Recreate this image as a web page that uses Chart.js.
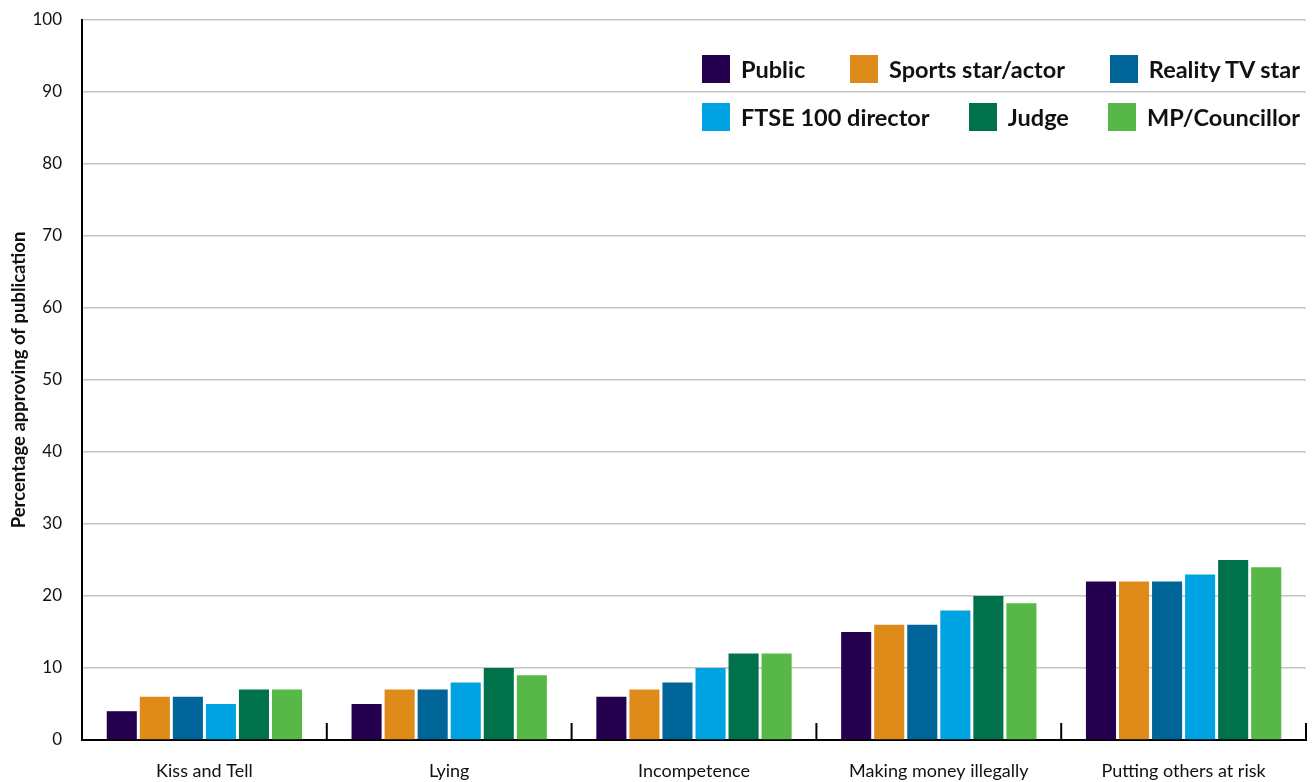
<!DOCTYPE html>
<html>
<head>
<meta charset="utf-8">
<script src="https://cdn.jsdelivr.net/npm/chart.js@4/dist/chart.umd.min.js"></script>
<style>
  html, body { margin: 0; padding: 0; background: #fff; }
  #wrap { position: relative; width: 1314px; height: 782px; }
  #legend { position: absolute; left: 702px; top: 55px; width: 598px; font-family: Lato, "Open Sans", sans-serif; }
  .row { display: flex; justify-content: space-between; height: 28px; margin-bottom: 20px; }
  .item { display: flex; align-items: center; font-weight: bold; font-size: 23.5px; color: #111; white-space: nowrap; }
  .box { width: 28px; height: 28px; margin-right: 11px; flex: none; }
</style>
</head>
<body>
<div id="wrap">
  <canvas id="c" width="1314" height="782"></canvas>
  <div id="legend"></div>
</div>
<script>
const categories = ["Kiss and Tell", "Lying", "Incompetence", "Making money illegally", "Putting others at risk"];
const seriesNames = ["Public", "Sports star/actor", "Reality TV star", "FTSE 100 director", "Judge", "MP/Councillor"];
const seriesColors = ["#24004f", "#de8b1a", "#006598", "#00a3e2", "#00714a", "#57b848"];
const publicVals   = [4, 5, 6, 15, 22];
const sportsVals   = [6, 7, 7, 16, 22];
const realityVals  = [6, 7, 8, 16, 22];
const ftseVals     = [5, 8, 10, 18, 23];
const judgeVals    = [7, 10, 12, 20, 25];
const mpVals       = [7, 9, 12, 19, 24];
const yTicks = [0, 10, 20, 30, 40, 50, 60, 70, 80, 90, 100];
const yTitle = "Percentage approving of publication";

const seriesValues = [publicVals, sportsVals, realityVals, ftseVals, judgeVals, mpVals];
const FONT = "Lato, 'Open Sans', sans-serif";

const catTicks = {
  id: 'catTicks',
  afterDraw(chart) {
    const x = chart.scales.x, ctx = chart.ctx;
    const n = categories.length;
    const half = (x.getPixelForValue(1) - x.getPixelForValue(0)) / 2;
    ctx.save();
    ctx.strokeStyle = '#000';
    ctx.lineWidth = 2;
    for (let i = 0; i <= n; i++) {
      const px = (i < n ? x.getPixelForValue(i) - half : x.getPixelForValue(n - 1) + half);
      ctx.beginPath();
      ctx.moveTo(px, x.top);
      ctx.lineTo(px, x.top - 17);
      ctx.stroke();
    }
    ctx.restore();
  }
};

new Chart(document.getElementById('c'), {
  type: 'bar',
  data: {
    labels: categories,
    datasets: seriesNames.map((n, i) => ({
      label: n,
      data: seriesValues[i],
      backgroundColor: seriesColors[i],
      borderWidth: 0,
      barPercentage: 0.91,
      categoryPercentage: 0.81
    }))
  },
  options: {
    responsive: false,
    animation: false,
    layout: { padding: { top: 20, right: 8, left: 0, bottom: 0 } },
    plugins: { legend: { display: false }, tooltip: { enabled: false } },
    scales: {
      x: {
        grid: { display: false },
        border: { color: '#000', width: 2 },
        ticks: { color: '#111', font: { family: FONT, size: 18 }, padding: 12 },
        afterFit(s) { s.height = 42; }
      },
      y: {
        min: 0, max: 100,
        afterBuildTicks(s) { s.ticks = yTicks.map(v => ({ value: v })); },
        grid: { color: '#c4c4c4', lineWidth: 1.5, drawTicks: true, tickLength: 20, tickColor: 'rgba(0,0,0,0)' },
        border: { color: '#000', width: 2 },
        ticks: { color: '#111', font: { family: FONT, size: 17 }, padding: 0 },
        title: { display: true, text: yTitle, color: '#111', font: { family: FONT, size: 18.5, weight: 'bold' }, padding: { top: 8, bottom: 0 } },
        afterFit(s) { s.width = 82; }
      }
    }
  },
  plugins: [catTicks]
});

const legend = document.getElementById('legend');
for (let r = 0; r < 2; r++) {
  const row = document.createElement('div');
  row.className = 'row';
  for (let k = 0; k < 3; k++) {
    const i = r * 3 + k;
    const it = document.createElement('div');
    it.className = 'item';
    const b = document.createElement('span');
    b.className = 'box';
    b.style.background = seriesColors[i];
    it.appendChild(b);
    it.appendChild(document.createTextNode(seriesNames[i]));
    row.appendChild(it);
  }
  legend.appendChild(row);
}
</script>
</body>
</html>
